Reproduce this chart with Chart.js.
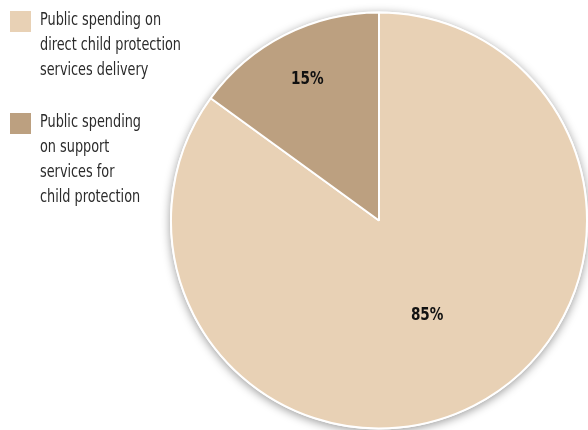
<!DOCTYPE html>
<html>
<head>
<meta charset="utf-8">
<script src="https://cdn.jsdelivr.net/npm/chart.js@4"></script>
<style>
  html, body { margin: 0; padding: 0; background: #fff; }
  #wrap { width: 588px; height: 430px; position: relative; }
</style>
</head>
<body>
<div id="wrap"><canvas id="spendingPie"></canvas></div>
<script>
var labels = [
  ['Public spending on', 'direct child protection', 'services delivery'],
  ['Public spending', 'on support', 'services for', 'child protection']
];
var values = [85, 15];
var colors = ['#e8d1b5', '#bca080'];

var fontFamily = '"Liberation Sans Narrow", "DejaVu Sans Condensed", "Roboto", sans-serif';
// squeeze text horizontally to get a condensed look
var squeeze = 0.84;

function narrowText(ctx, text, x, y) {
  ctx.save();
  ctx.translate(x, y);
  ctx.scale(squeeze, 1);
  ctx.fillText(text, 0, 0);
  ctx.restore();
}

// soft shadow under the whole pie
var pieShadow = {
  id: 'pieShadow',
  beforeDatasetsDraw: function (chart) {
    var arc = chart.getDatasetMeta(0).data[0];
    if (!arc) return;
    var ctx = chart.ctx;
    ctx.save();
    ctx.shadowColor = 'rgba(0,0,0,0.4)';
    ctx.shadowBlur = 10;
    ctx.shadowOffsetX = 0;
    ctx.shadowOffsetY = 2;
    ctx.fillStyle = '#ffffff';
    ctx.beginPath();
    ctx.arc(arc.x, arc.y, arc.outerRadius + 1, 0, Math.PI * 2);
    ctx.fill();
    ctx.restore();
  }
};

// percentage text inside each slice
var sliceLabels = {
  id: 'sliceLabels',
  afterDatasetsDraw: function (chart) {
    var ctx = chart.ctx;
    var data = chart.data.datasets[0].data;
    var total = data.reduce(function (a, b) { return a + b; }, 0);
    ctx.save();
    ctx.font = 'bold 18px ' + fontFamily;
    ctx.fillStyle = '#111';
    ctx.textAlign = 'center';
    ctx.textBaseline = 'middle';
    chart.getDatasetMeta(0).data.forEach(function (arc, i) {
      var mid = (arc.startAngle + arc.endAngle) / 2;
      var share = data[i] / total;
      var r = arc.outerRadius * (share < 0.3 ? 0.76 : 0.51);
      narrowText(ctx, data[i] + '%', arc.x + Math.cos(mid) * r, arc.y + Math.sin(mid) * r);
    });
    ctx.restore();
  }
};

// stacked legend in the top left corner
var sideLegend = {
  id: 'sideLegend',
  afterDraw: function (chart) {
    var ctx = chart.ctx;
    var tops = [10, 112];
    ctx.save();
    ctx.font = '17px ' + fontFamily;
    ctx.textBaseline = 'middle';
    labels.forEach(function (lines, i) {
      ctx.fillStyle = colors[i];
      ctx.fillRect(10, tops[i] + 1, 21, 21);
      ctx.fillStyle = '#2b2b2b';
      lines.forEach(function (line, j) {
        narrowText(ctx, line, 40, tops[i] + 11 + j * 25);
      });
    });
    ctx.restore();
  }
};

new Chart(document.getElementById('spendingPie'), {
  type: 'pie',
  data: {
    labels: labels,
    datasets: [{
      data: values,
      backgroundColor: colors,
      borderColor: '#ffffff',
      borderWidth: 2,
      hoverOffset: 0
    }]
  },
  options: {
    responsive: true,
    maintainAspectRatio: false,
    animation: false,
    events: [],
    layout: {
      padding: { left: 170, top: 11, right: 0, bottom: 0 }
    },
    plugins: {
      legend: { display: false },
      tooltip: { enabled: false }
    }
  },
  plugins: [pieShadow, sliceLabels, sideLegend]
});
</script>
</body>
</html>
